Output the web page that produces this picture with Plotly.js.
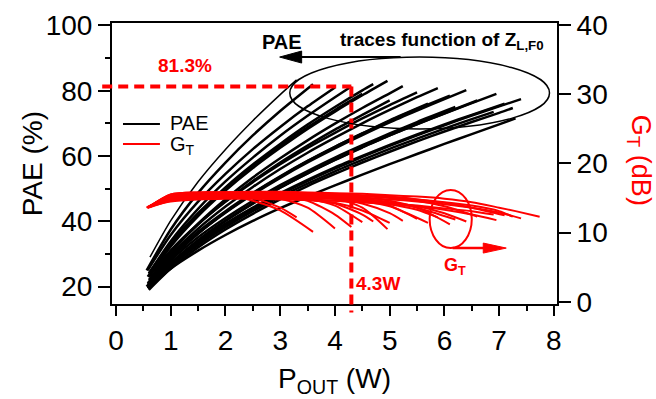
<!DOCTYPE html>
<html>
<head>
<meta charset="utf-8">
<script src="https://cdn.plot.ly/plotly-3.0.1.min.js"></script>
<style>
  html, body { margin: 0; padding: 0; background: #fff; }
  #chart { width: 656px; height: 399px; }
</style>
</head>
<body>
<div id="chart"></div>
<script>
// Output power sweep for each fundamental load impedance (W)
const pout = [
  [0.62, 1, 1.5, 2, 2.5, 3, 3.3],
  [0.56, 1, 1.5, 2, 2.5, 3, 3.6],
  [0.58, 1, 1.5, 2, 2.5, 3, 3.5, 4],
  [0.6, 1, 1.5, 2, 2.5, 3, 3.5, 4, 4.3],
  [0.58, 1, 1.5, 2, 2.5, 3, 3.5, 4, 4.5, 4.7],
  [0.6, 1, 1.5, 2, 2.5, 3, 3.5, 4, 4.5, 4.96],
  [0.62, 1, 1.5, 2, 2.5, 3, 3.5, 4, 4.5, 5, 5.24],
  [0.6, 1, 1.5, 2, 2.5, 3, 3.5, 4, 4.5, 5, 5.5],
  [0.58, 1, 1.5, 2, 2.5, 3, 3.5, 4, 4.5, 5, 5.5, 5.88],
  [0.62, 1, 1.5, 2, 2.5, 3, 3.5, 4, 4.5, 5, 5.5, 6.1],
  [0.6, 1, 1.5, 2, 2.5, 3, 3.5, 4, 4.5, 5, 5.5, 6, 6.4],
  [0.64, 1, 1.5, 2, 2.5, 3, 3.5, 4, 4.5, 5, 5.5, 6, 6.6],
  [0.6, 1, 1.5, 2, 2.5, 3, 3.5, 4, 4.5, 5, 5.5, 6, 6.5, 6.95],
  [0.62, 1, 1.5, 2, 2.5, 3, 3.5, 4, 4.5, 5, 5.5, 6, 6.5, 7.1],
  [0.58, 1, 1.5, 2, 2.5, 3, 3.5, 4, 4.5, 5, 5.5, 6, 6.5, 7, 7.4],
  [0.6, 1, 1.5, 2, 2.5, 3, 3.5, 4, 4.5, 5, 5.5, 6, 6.5, 7, 7.25],
  [0.62, 1, 1.5, 2, 2.5, 3, 3.5, 4, 4.5, 5, 5.5, 6, 6.5, 6.9],
  [0.58, 1, 1.5, 2, 2.5, 3, 3.5, 4, 4.5, 5, 5.5, 6, 6.5, 7, 7.3, 7.74],
  [0.6, 1, 1.5, 2, 2.5, 3, 3.5, 4, 4.5, 5],
  [0.58, 1, 1.5, 2, 2.5, 3, 3.5, 4, 4.5, 5, 5.5, 6.2],
  [0.6, 1, 1.5, 2, 2.5, 3, 3.5, 4, 4.5],
  [0.56, 1, 1.5, 2, 2.5, 3, 3.5, 4, 4.5, 5, 5.7]
];

// Power-added efficiency for each sweep (%)
const pae = [
  [29, 40.2, 52.1, 62, 70.8, 78.8, 83.3],
  [25, 37.5, 48.7, 58, 66.3, 73.8, 82],
  [25, 35.8, 46, 54.5, 62.1, 68.9, 75.2, 81],
  [24, 33.9, 43.8, 52.2, 59.5, 66.2, 72.3, 78, 81.3],
  [23, 33, 42.4, 50.4, 57.4, 63.7, 69.6, 75, 80.1, 82],
  [23, 32.3, 41.6, 49.4, 56.3, 62.5, 68.3, 73.6, 78.6, 83],
  [22, 30.4, 39.3, 46.8, 53.4, 59.3, 64.8, 69.9, 74.7, 79.2, 81.4],
  [23, 31.1, 39.2, 46, 52, 57.5, 62.5, 67.1, 71.5, 75.6, 79.5],
  [21, 29.6, 37.7, 44.5, 50.5, 56, 61, 65.6, 70, 74.1, 78, 80.8],
  [22, 29.2, 36.8, 43.1, 48.7, 53.8, 58.5, 62.8, 66.9, 70.7, 74.4, 78.5],
  [21, 28.6, 36.2, 42.6, 48.2, 53.3, 58, 62.3, 66.4, 70.3, 73.9, 77.4, 80.2],
  [20.5, 26.9, 34.1, 40.1, 45.4, 50.3, 54.7, 58.8, 62.7, 66.3, 69.8, 73.1, 77],
  [20, 27.1, 34.2, 40.2, 45.5, 50.3, 54.7, 58.8, 62.6, 66.3, 69.7, 73, 76.2, 79],
  [21, 27.2, 33.8, 39.3, 44.2, 48.6, 52.7, 56.5, 60, 63.4, 66.6, 69.7, 72.6, 76],
  [19.5, 26.5, 33.2, 38.8, 43.7, 48.2, 52.3, 56.1, 59.7, 63.1, 66.3, 69.4, 72.4, 75.2, 77.4],
  [19, 25.5, 32, 37.5, 42.3, 46.7, 50.8, 54.5, 58, 61.3, 64.5, 67.5, 70.4, 73.2, 74.7],
  [20, 26.2, 32.7, 38.2, 43.1, 47.5, 51.5, 55.3, 58.8, 62.2, 65.3, 68.4, 71.3, 73.5],
  [19.5, 25.5, 31, 35.8, 40.1, 44, 47.6, 51, 54.3, 57.5, 60.6, 63.7, 66.7, 69.7, 71.5],
  [22, 30.5, 39, 46.1, 52.3, 58, 63.2, 68.1, 72.6, 77],
  [20.5, 28, 35.1, 41, 46.3, 51.1, 55.4, 59.5, 63.3, 66.9, 70.4, 75],
  [24, 33.2, 42.4, 50.1, 57, 63.1, 68.8, 74.1, 79],
  [20, 28.6, 36.3, 42.8, 48.5, 53.6, 58.4, 62.8, 66.9, 70.9, 76]
];

// Transducer gain for each sweep (dB)
const gain = [
  [13.8, 15.4, 15.7, 15.6, 15.0, 13.6, 12.2],
  [13.6, 15.2, 15.5, 15.4, 14.6, 13.2, 10.1],
  [13.7, 15.3, 15.6, 15.6, 15.4, 14.9, 13.6, 10.6],
  [13.7, 15.4, 15.7, 15.7, 15.6, 15.3, 14.6, 12.6, 10.8],
  [13.6, 15.0, 15.3, 15.3, 15.2, 15.1, 14.8, 14.2, 12.6, 11.6],
  [13.7, 15.5, 15.8, 15.8, 15.8, 15.7, 15.5, 15.0, 13.6, 10.5],
  [13.8, 15.2, 15.5, 15.5, 15.5, 15.4, 15.2, 14.9, 14.2, 12.8, 11.7],
  [13.7, 15.3, 15.6, 15.7, 15.6, 15.6, 15.5, 15.2, 14.8, 13.9, 12.0],
  [13.6, 14.8, 15.1, 15.2, 15.2, 15.1, 15.0, 14.9, 14.6, 14.1, 13.3, 12.2],
  [13.8, 15.5, 15.8, 15.8, 15.8, 15.7, 15.6, 15.4, 15.1, 14.6, 13.6, 11.2],
  [13.7, 15.0, 15.3, 15.4, 15.4, 15.3, 15.2, 15.0, 14.7, 14.3, 13.8, 12.8, 11.6],
  [13.8, 15.4, 15.7, 15.8, 15.8, 15.7, 15.6, 15.5, 15.3, 15.0, 14.6, 13.8, 12.3],
  [13.6, 14.6, 14.9, 15.0, 15.0, 14.9, 14.8, 14.6, 14.4, 14.1, 13.8, 13.3, 12.6, 11.8],
  [13.7, 15.3, 15.7, 15.8, 15.8, 15.8, 15.7, 15.6, 15.4, 15.2, 14.8, 14.3, 13.6, 12.5],
  [13.6, 14.9, 15.3, 15.4, 15.4, 15.4, 15.3, 15.2, 15.0, 14.8, 14.5, 14.1, 13.6, 12.9, 12.05],
  [13.7, 15.2, 15.6, 15.7, 15.7, 15.7, 15.6, 15.5, 15.3, 15.1, 14.8, 14.4, 13.9, 13.1, 12.3],
  [13.8, 14.5, 14.8, 14.9, 14.9, 14.8, 14.7, 14.6, 14.4, 14.2, 13.9, 13.5, 13.1, 12.6],
  [13.6, 15.3, 15.7, 15.8, 15.9, 15.9, 15.8, 15.7, 15.6, 15.4, 15.2, 14.9, 14.4, 13.6, 13.1, 12.3],
  [13.7, 14.7, 15.0, 15.1, 15.0, 14.9, 14.7, 14.3, 13.2, 11.4],
  [13.6, 15.1, 15.5, 15.6, 15.6, 15.5, 15.4, 15.2, 14.9, 14.4, 13.6, 11.9],
  [13.7, 15.2, 15.5, 15.6, 15.5, 15.3, 14.9, 13.9, 11.5],
  [13.6, 14.9, 15.2, 15.3, 15.3, 15.2, 15.1, 14.9, 14.5, 13.8, 11.4]
];

// Highlighted best-efficiency operating point
const peakPae = 81.3;   // %
const peakPout = 4.3;   // W

const xRange = [-0.073, 8.057];
const yRange = [14.67, 100.73];
const y2Range = [-0.33, 40.31];

const RED = '#ff0000';
const FONT = '"Liberation Sans", Arial, Helvetica, sans-serif';

const traces = [];
pae.forEach((ys, i) => {
  traces.push({
    type: 'scatter', mode: 'lines',
    x: pout[i].slice(0, ys.length), y: ys,
    xaxis: 'x', yaxis: 'y',
    line: { color: '#000', width: i === 0 ? 1.5 : 2.5, shape: 'spline', smoothing: 0.7 },
    hoverinfo: 'skip', showlegend: false
  });
});
gain.forEach((ys, i) => {
  traces.push({
    type: 'scatter', mode: 'lines',
    x: pout[i].slice(0, ys.length), y: ys,
    xaxis: 'x', yaxis: 'y2',
    line: { color: RED, width: 2, shape: 'spline', smoothing: 0.7 },
    hoverinfo: 'skip', showlegend: false
  });
});

const toPaperX = v => (v - xRange[0]) / (xRange[1] - xRange[0]);
const toPaperY = v => (v - yRange[0]) / (yRange[1] - yRange[0]);

const axisCommon = {
  showgrid: false, zeroline: false,
  showline: true, linewidth: 2, linecolor: '#000',
  ticks: 'outside', tickwidth: 2, tickcolor: '#000',
  tickfont: { family: FONT, size: 28, color: '#000' }
};

const shapes = [
  // dashed guides to the peak-efficiency point
  { type: 'line', xref: 'paper', yref: 'paper',
    x0: -0.022, x1: toPaperX(peakPout), y0: toPaperY(peakPae), y1: toPaperY(peakPae),
    line: { color: RED, width: 4, dash: '10px,6px' } },
  { type: 'line', xref: 'paper', yref: 'paper',
    x0: toPaperX(peakPout), x1: toPaperX(peakPout), y0: toPaperY(peakPae), y1: -0.03,
    line: { color: RED, width: 4, dash: '10px,6px' } },
  // load-impedance group outline and arrow toward the PAE label
  { type: 'circle', xref: 'x', yref: 'y', x0: 3.175, x1: 7.92, y0: 68.3, y1: 90.3,
    line: { color: '#000', width: 1.5 } },
  { type: 'line', xref: 'x', yref: 'y', x0: 3.2, x1: 5.2, y0: 90.3, y1: 90.3,
    line: { color: '#000', width: 2 } },
  { type: 'path', xref: 'x', yref: 'y', xsizemode: 'pixel', ysizemode: 'pixel',
    xanchor: 2.99, yanchor: 90.3, path: 'M0,0L22,6L22,-6Z',
    fillcolor: '#000', line: { color: '#000', width: 1 } },
  // gain group outline and arrow
  { type: 'circle', xref: 'x', yref: 'y', x0: 5.73, x1: 6.5, y0: 31.8, y1: 49.6,
    line: { color: RED, width: 2 } },
  { type: 'line', xref: 'x', yref: 'y', x0: 6.15, x1: 6.95, y0: 31.8, y1: 31.8,
    line: { color: RED, width: 2.5 } },
  { type: 'path', xref: 'x', yref: 'y', xsizemode: 'pixel', ysizemode: 'pixel',
    xanchor: 7.13, yanchor: 31.8, path: 'M0,0L-23,5L-23,-5Z',
    fillcolor: RED, line: { color: RED, width: 1 } },
  // legend keys
  { type: 'line', xref: 'paper', yref: 'paper', x0: 0.0247, x1: 0.1077, y0: 0.6406, y1: 0.6406,
    line: { color: '#000', width: 2 } },
  { type: 'line', xref: 'paper', yref: 'paper', x0: 0.0247, x1: 0.1077, y0: 0.5694, y1: 0.5694,
    line: { color: RED, width: 2 } }
];

const annotations = [
  { xref: 'paper', yref: 'paper', x: 0.1257, y: 0.644, xanchor: 'left', yanchor: 'middle',
    text: 'PAE', showarrow: false, font: { family: FONT, size: 20, color: '#000' } },
  { xref: 'paper', yref: 'paper', x: 0.1257, y: 0.565, xanchor: 'left', yanchor: 'middle',
    text: 'G<sub>T</sub>', showarrow: false, font: { family: FONT, size: 20, color: '#000' } },
  { xref: 'paper', yref: 'paper', x: 0.165, y: 0.849, xanchor: 'center', yanchor: 'middle',
    text: '<b>' + peakPae + '%</b>', showarrow: false, font: { family: FONT, size: 19, color: RED } },
  { xref: 'paper', yref: 'paper', x: 0.598, y: 0.073, xanchor: 'center', yanchor: 'middle',
    text: '<b>' + peakPout + 'W</b>', showarrow: false, font: { family: FONT, size: 19, color: RED } },
  { xref: 'paper', yref: 'paper', x: 0.3816, y: 0.934, xanchor: 'center', yanchor: 'middle',
    text: '<b>PAE</b>', showarrow: false, font: { family: FONT, size: 20, color: '#000' } },
  { xref: 'paper', yref: 'paper', x: 0.507, y: 0.935, xanchor: 'left', yanchor: 'middle',
    text: '<b>traces function of Z<sub>L,F0</sub></b>', showarrow: false,
    font: { family: FONT, size: 19, color: '#000' } },
  { xref: 'paper', yref: 'paper', x: 0.77, y: 0.135, xanchor: 'center', yanchor: 'middle',
    text: '<b>G<sub>T</sub></b>', showarrow: false, font: { family: FONT, size: 18, color: RED } },
  // right-hand axis title, reading downward
  { xref: 'paper', yref: 'paper', x: 1.185, y: 0.512, xanchor: 'center', yanchor: 'middle',
    text: 'G<sub>T</sub> (dB)', textangle: 90, showarrow: false,
    font: { family: FONT, size: 27, color: RED } },
  // left-hand axis title
  { xref: 'paper', yref: 'paper', x: -0.178, y: 0.5, xanchor: 'center', yanchor: 'middle',
    text: 'PAE (%)', textangle: -90, showarrow: false,
    font: { family: FONT, size: 28, color: '#000' } }
];

const layout = {
  width: 656, height: 399,
  margin: { l: 112, r: 98.5, t: 23, b: 95 },
  paper_bgcolor: '#fff', plot_bgcolor: '#fff',
  showlegend: false,
  font: { family: FONT, color: '#000' },
  xaxis: Object.assign({}, axisCommon, {
    range: xRange, mirror: true, tick0: 0, dtick: 1, ticklen: 10,
    minor: { tick0: 0, dtick: 0.5, ticks: 'outside', ticklen: 5, tickwidth: 2, tickcolor: '#000' },
    title: { text: 'P<sub>OUT</sub> (W)', font: { family: FONT, size: 28, color: '#000' }, standoff: 14 }
  }),
  yaxis: Object.assign({}, axisCommon, {
    range: yRange, tick0: 0, dtick: 20, ticklen: 12,
    minor: { tick0: 0, dtick: 10, ticks: 'outside', ticklen: 5, tickwidth: 2, tickcolor: '#000' }
  }),
  yaxis2: Object.assign({}, axisCommon, {
    range: y2Range, overlaying: 'y', side: 'right', tick0: 0, dtick: 10, ticklen: 12
  }),
  shapes: shapes,
  annotations: annotations
};

Plotly.newPlot('chart', traces, layout, { staticPlot: true, displayModeBar: false });
</script>
</body>
</html>
